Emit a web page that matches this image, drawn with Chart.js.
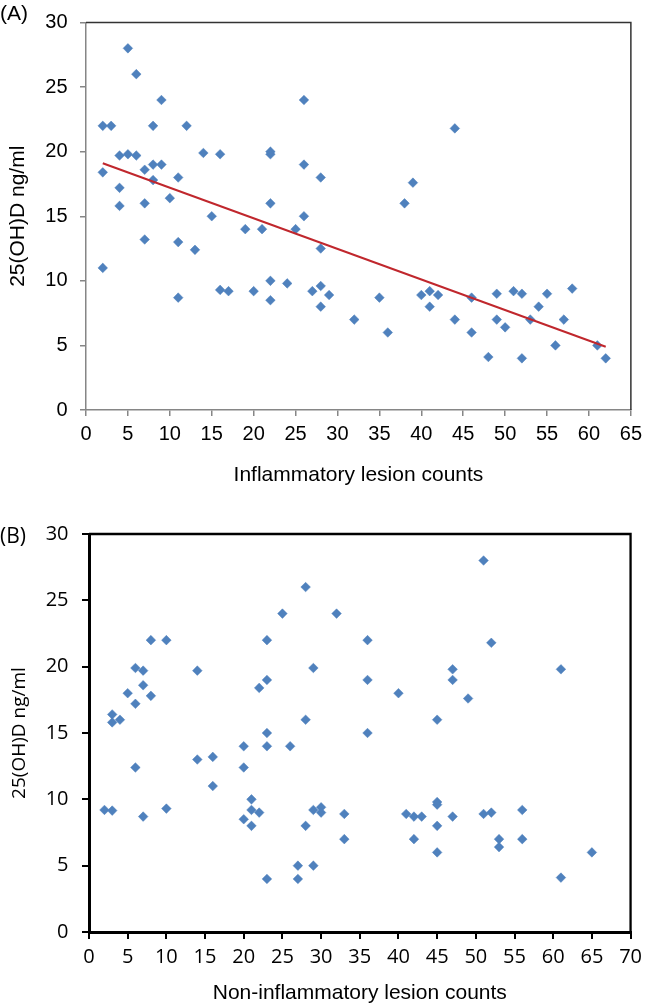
<!DOCTYPE html>
<html><head><meta charset="utf-8">
<script src="https://cdn.jsdelivr.net/npm/chart.js@4/dist/chart.umd.min.js"></script>
<style>
html,body{margin:0;padding:0;background:#fff;}
#wrap{position:relative;width:650px;height:1007px;overflow:hidden;background:#fff;}
.box{position:absolute;left:0;width:650px;}
.tag{position:absolute;left:0;font-size:21px;line-height:24px;color:#000;white-space:nowrap;}
</style></head><body>
<div id="wrap">
<div class="box" style="top:0;height:510px"><canvas id="cA" width="650" height="510"></canvas></div>
<div class="box" style="top:510px;height:497px"><canvas id="cB" width="650" height="497"></canvas></div>
<div class="tag" style="top:1px;font-family:'Liberation Sans',Arial,sans-serif">(A)</div>
<div class="tag" style="top:523px;font-family:'Open Sans',sans-serif">(B)</div>
</div>
<script>
// Panel A: inflammatory lesion counts vs 25(OH)D
const aX = [2,3,2,2,4,5,6,5,6,4,4,7,7,7,8,8,8,9,9,10,11,11,11,12,13,14,15,16,16,17,19,20,21,22,22,22,22,22,24,25,26,26,26,27,28,28,28,28,29,32,35,36,38,39,40,41,41,42,44,44,46,46,48,49,49,50,51,52,52,53,54,55,56,57,58,61,62];
const aY = [22,22,18.4,11,19.7,19.8,19.7,28,26,17.2,15.8,18.6,16,13.2,22,19,17.8,19,24,16.4,18,13,8.7,22,12.4,19.9,15,19.8,9.3,9.2,14,9.2,14,19.8,20,16,10,8.5,9.8,14,24,19,15,9.2,18,12.5,9.6,8,8.9,7,8.7,6,16,17.6,8.9,9.2,8,8.9,21.8,7,8.7,6,4.1,9,7,6.4,9.2,9,4,7,8,9,5,7,9.4,5,4];
const trendX = [2,62];
const trendY = [19.1,4.9];

// Panel B: non-inflammatory lesion counts vs 25(OH)D
const bX = [2,3,3,3,4,5,6,6,6,7,7,7,8,8,10,10,14,14,16,16,20,20,20,21,21,21,22,22,23,23,23,23,23,25,26,27,27,28,28,28,29,29,29,30,30,32,33,33,36,36,36,40,41,42,42,43,45,45,45,45,45,47,47,47,49,51,51,52,52,53,53,56,56,61,61,65];
const bY = [9.2,9.15,16.4,15.8,16,18,19.9,17.2,12.4,19.7,18.6,8.7,22,17.8,22,9.3,19.7,13,13.2,11,14,12.4,8.5,10,9.2,8,18.4,9,22,19,15,14,4,24,14,5,4,26,16,8,19.9,9.2,5,9.4,9,24,8.9,7,22,19,15,18,8.9,8.7,7,8.7,16,9.8,9.6,8,6,19.8,19,8.7,17.6,28,8.9,21.8,9,7,6.4,9.2,7,19.8,4.1,6];

const yTitle = '25(OH)D ng/ml';
const aTitle = 'Inflammatory lesion counts';
const bTitle = 'Non-inflammatory lesion counts';

const ARIAL = "'Liberation Sans', Arial, sans-serif";
const SEGOE = "'Open Sans', sans-serif";
const BLUE = '#4F81BD';

const frame = {
  id: 'frame',
  afterDatasetsDraw(chart, args, opts) {
    const {ctx, chartArea: {left, top, right, bottom}} = chart;
    ctx.save();
    ctx.strokeStyle = opts.color;
    ctx.lineWidth = opts.width;
    ctx.beginPath();
    ctx.moveTo(left, top);
    ctx.lineTo(right, top);
    ctx.lineTo(right, bottom);
    ctx.stroke();
    ctx.restore();
  }
};

function pts(xs, ys) { return xs.map((x, i) => ({x: x, y: ys[i]})); }

function axis(o) {
  return {
    type: 'linear', min: o.min, max: o.max,
    ticks: {stepSize: 5, autoSkip: false, maxRotation: 0, color: '#000',
      font: {family: o.tickFont, size: 20, lineHeight: 1}, padding: o.tickPad},
    grid: {display: true, drawOnChartArea: false, drawTicks: true, tickLength: o.tickLen,
      color: o.axisColor, lineWidth: o.tickWidth},
    border: {display: true, color: o.axisColor, width: o.axisWidth},
    title: {display: true, text: o.title, color: '#000',
      font: {family: o.titleFont, size: o.titleSize, lineHeight: 1.2}, padding: o.titlePad},
    afterFit: o.fit
  };
}

new Chart(document.getElementById('cA'), {
  type: 'scatter',
  data: {datasets: [
    {type: 'line', data: pts(trendX, trendY), borderColor: '#C0272D', borderWidth: 2,
      pointRadius: 0, fill: false, order: 0},
    {data: pts(aX, aY), pointStyle: 'rectRot', pointRadius: 4.8, backgroundColor: BLUE,
      borderColor: BLUE, borderWidth: 0.5, order: 1}
  ]},
  options: {
    responsive: false, animation: false, events: [],
    layout: {padding: {top: 11, right: 11.5, left: 0, bottom: 0}},
    plugins: {legend: {display: false}, tooltip: {enabled: false},
      frame: {color: '#333', width: 1.5}},
    scales: {
      x: axis({min: 0, max: 65, tickFont: ARIAL, tickPad: 8, tickLen: 6, axisColor: '#868686',
        tickWidth: 1.5, axisWidth: 1.5, title: aTitle, titleFont: ARIAL, titleSize: 21,
        titlePad: {top: 0, bottom: 21.9}, fit: s => { s.height = 100; }}),
      y: axis({min: 0, max: 30, tickFont: ARIAL, tickPad: 12.5, tickLen: 6, axisColor: '#868686',
        tickWidth: 1.5, axisWidth: 1.5, title: yTitle, titleFont: ARIAL, titleSize: 21,
        titlePad: {top: 5.9, bottom: 0}, fit: s => { s.width = 86; }})
    }
  },
  plugins: [frame]
});

new Chart(document.getElementById('cB'), {
  type: 'scatter',
  data: {datasets: [
    {data: pts(bX, bY), pointStyle: 'rectRot', pointRadius: 4.8, backgroundColor: BLUE,
      borderColor: BLUE, borderWidth: 0.5}
  ]},
  options: {
    responsive: false, animation: false, events: [],
    layout: {padding: {top: 24, right: 11.3, left: 0, bottom: 0}},
    plugins: {legend: {display: false}, tooltip: {enabled: false},
      frame: {color: '#000', width: 2.3}},
    scales: {
      x: axis({min: 0, max: 70, tickFont: SEGOE, tickPad: 8, tickLen: 7, axisColor: '#000',
        tickWidth: 2, axisWidth: 3, title: bTitle, titleFont: ARIAL, titleSize: 21,
        titlePad: {top: 0, bottom: 0.9}, fit: s => { s.height = 75; }}),
      y: axis({min: 0, max: 30, tickFont: SEGOE, tickPad: 13.5, tickLen: 7, axisColor: '#000',
        tickWidth: 2, axisWidth: 3, title: yTitle, titleFont: SEGOE, titleSize: 19,
        titlePad: {top: 8.6, bottom: 0}, fit: s => { s.width = 89; }})
    }
  },
  plugins: [frame]
});
</script>
</body></html>
